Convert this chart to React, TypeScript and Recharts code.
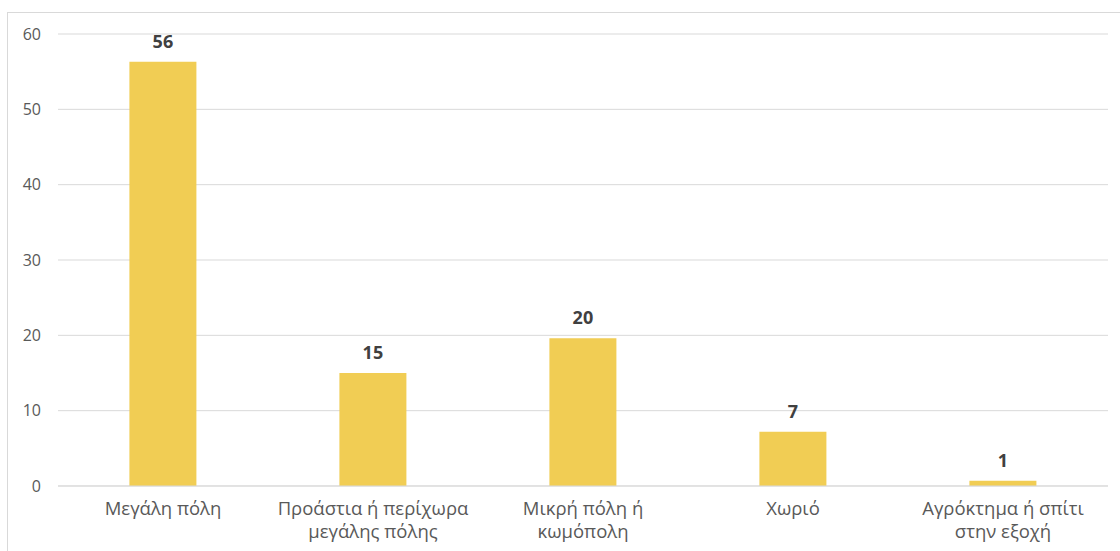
import React from "react";
import { BarChart, Bar, XAxis, YAxis, CartesianGrid, LabelList } from "recharts";

const categories = [
  "Μεγάλη πόλη",
  "Προάστια ή περίχωρα μεγάλης πόλης",
  "Μικρή πόλη ή κωμόπολη",
  "Χωριό",
  "Αγρόκτημα ή σπίτι στην εξοχή",
];

// how the axis labels break into lines, as in the original
const tickLines: Record<string, string[]> = {
  "Μεγάλη πόλη": ["Μεγάλη πόλη"],
  "Προάστια ή περίχωρα μεγάλης πόλης": ["Προάστια ή περίχωρα", "μεγάλης πόλης"],
  "Μικρή πόλη ή κωμόπολη": ["Μικρή πόλη ή", "κωμόπολη"],
  "Χωριό": ["Χωριό"],
  "Αγρόκτημα ή σπίτι στην εξοχή": ["Αγρόκτημα ή σπίτι", "στην εξοχή"],
};

const values = [56.3, 15.0, 19.6, 7.2, 0.7];
const yTicks = [0, 10, 20, 30, 40, 50, 60];

const data = categories.map((name, i) => ({ name, value: values[i] }));

const FONT = "'Open Sans', 'Noto Sans', sans-serif";

function CategoryTick(props: any) {
  const { x, y, payload } = props;
  const lines = tickLines[payload.value] || [payload.value];
  return (
    <g transform={`translate(${x},${y})`}>
      {lines.map((line, i) => (
        <text
          key={i}
          x={0}
          y={21 + i * 23}
          textAnchor="middle"
          fill="#595959"
          fontSize={18.5}
          fontFamily={FONT}
        >
          {line}
        </text>
      ))}
    </g>
  );
}

export default function App() {
  return (
    <div
      style={{
        position: "fixed",
        left: 0,
        top: 0,
        width: 1120,
        height: 551,
        overflow: "hidden",
        background: "#fff",
      }}
    >
      <div
        style={{
          position: "absolute",
          left: 7,
          top: 12,
          width: 1113,
          height: 539,
          borderLeft: "1px solid #d9d9d9",
          borderTop: "1px solid #d9d9d9",
          boxSizing: "border-box",
        }}
      />
      <div style={{ position: "absolute", left: 0, top: 0 }}>
        <BarChart
          width={1120}
          height={551}
          data={data}
          margin={{ top: 34, right: 12, left: 0, bottom: 5 }}
          barCategoryGap="34%"
        >
          <CartesianGrid vertical={false} stroke="#d9d9d9" />
          <XAxis
            dataKey="name"
            height={60}
            axisLine={{ stroke: "#d9d9d9" }}
            tickLine={false}
            interval={0}
            tick={<CategoryTick />}
          />
          <YAxis
            width={58}
            domain={[0, 60]}
            ticks={yTicks}
            axisLine={false}
            tickLine={false}
            tickMargin={11}
            tick={{ fill: "#595959", fontSize: 16, fontFamily: FONT }}
          />
          <Bar dataKey="value" fill="#F1CD54" isAnimationActive={false}>
            <LabelList
              dataKey="value"
              position="top"
              offset={14}
              formatter={(v: any) => Math.round(Number(v))}
              fill="#404040"
              fontSize={18}
              fontWeight="bold"
              fontFamily={FONT}
            />
          </Bar>
        </BarChart>
      </div>
    </div>
  );
}
